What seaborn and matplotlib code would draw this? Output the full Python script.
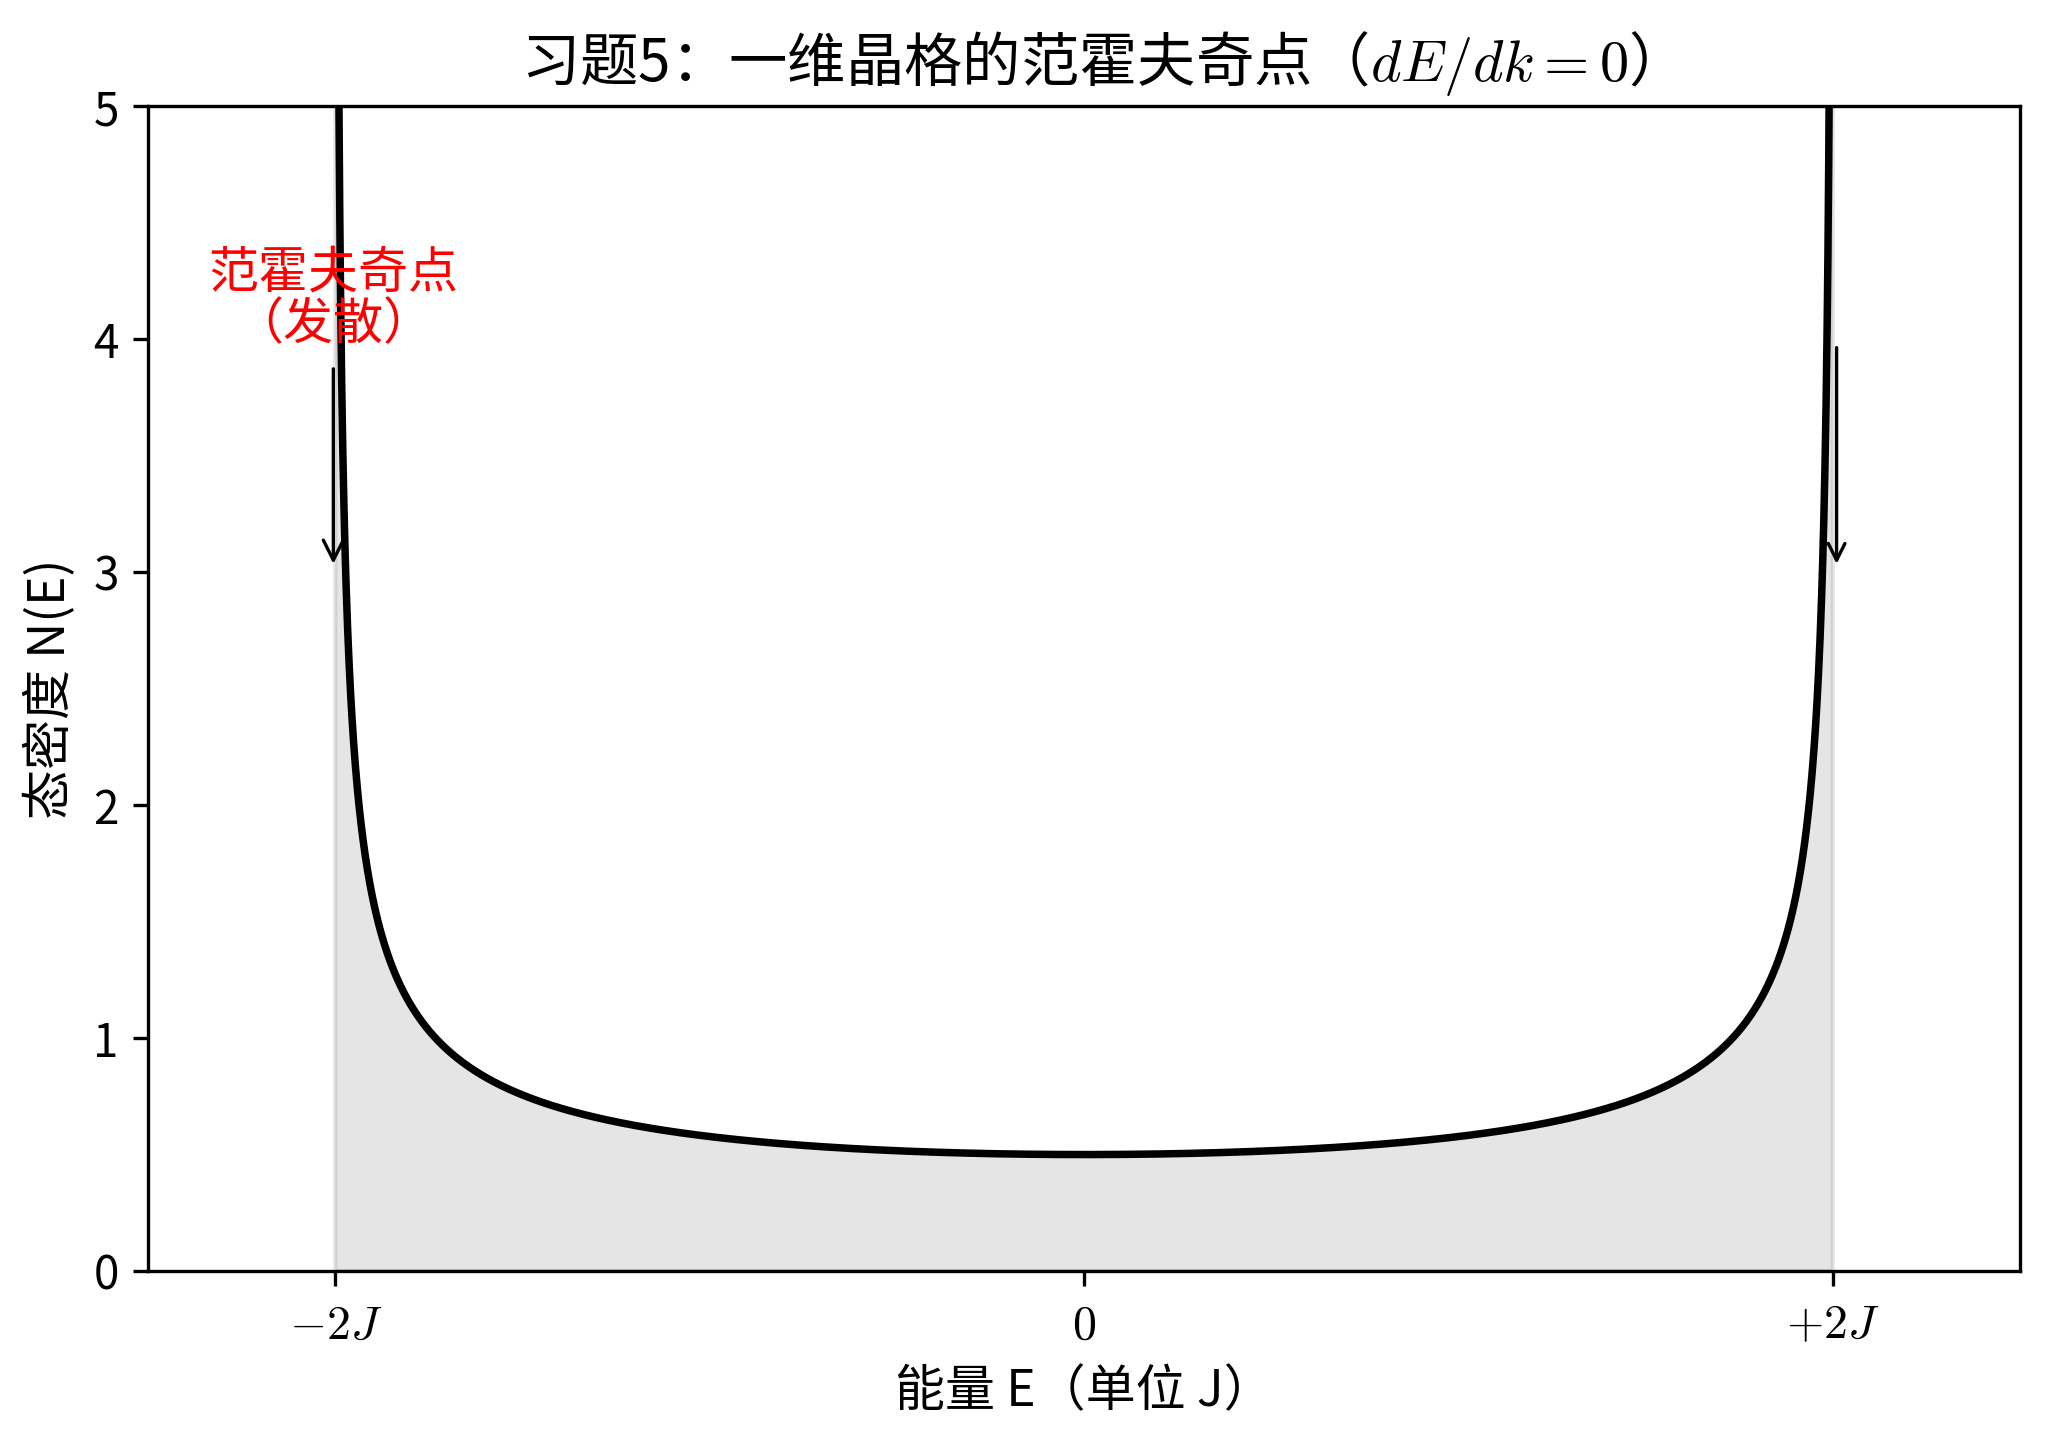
import numpy as np
import matplotlib
matplotlib.use('Agg')
import matplotlib.pyplot as plt
import seaborn as sns

# 1D tight-binding band, hopping J = 1, band edges at -2J and +2J
band_edges = [-2.0, 2.0]
energy = np.linspace(-1.9999, 1.9999, 4001)
dos = 1.0 / np.sqrt(4.0 - energy ** 2)   # N(E) ~ 1/sqrt(4J^2 - E^2)

x_ticks = [-2, 0, 2]
x_tick_labels = [r'$-2J$', r'$0$', r'$+2J$']
y_ticks = [0, 1, 2, 3, 4, 5]

sns.set_style('ticks')
plt.rcParams['font.family'] = ['Noto Sans CJK SC', 'DejaVu Sans']
plt.rcParams['mathtext.fontset'] = 'cm'
plt.rcParams['axes.unicode_minus'] = False
for key in ['text.color', 'axes.labelcolor', 'xtick.color', 'ytick.color', 'axes.edgecolor']:
    plt.rcParams[key] = 'black'

fig, ax = plt.subplots(figsize=(2050 / 300, 1437 / 300), dpi=300)
fig.subplots_adjust(left=0.0722, right=0.9854, top=0.926, bottom=0.1155)

ax.fill_between(energy, dos, 0, color='gray', alpha=0.2)
sns.lineplot(x=energy, y=dos, color='black', linewidth=1.8, ax=ax, sort=False)

# arrows pointing at the singularities
ax.annotate('范霍夫奇点\n（发散）', xy=(-2.005, 3.0), xytext=(-2.005, 4.17),
            ha='center', va='center', color='red', fontsize=12, linespacing=1.0,
            arrowprops=dict(arrowstyle='->', color='black', lw=0.8))
ax.annotate('', xy=(2.01, 3.0), xytext=(2.01, 4.0),
            arrowprops=dict(arrowstyle='->', color='black', lw=0.8))

ax.set_xlim(-2.5, 2.5)
ax.set_ylim(0, 5)
ax.set_xticks(x_ticks)
ax.set_xticklabels(x_tick_labels, fontsize=11.5)
ax.set_yticks(y_ticks)
ax.tick_params(axis='y', labelsize=11)
ax.set_xlabel('能量 E（单位 J）', fontsize=12)
ax.set_ylabel('态密度 N(E)', fontsize=12)
ax.set_title('习题5：一维晶格的范霍夫奇点（$dE/dk=0$）', fontsize=14)

plt.savefig('out.png', dpi=300)
